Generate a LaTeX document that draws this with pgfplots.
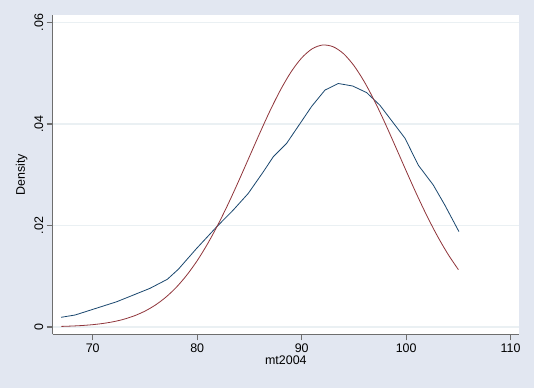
\documentclass[border=0pt]{standalone}
\usepackage{fontspec}
\setmainfont{Liberation Sans}
\usepackage{pgfplots}
\pgfplotsset{compat=1.18}
\definecolor{bgc}{RGB}{226,231,241}
\definecolor{gridc}{RGB}{234,240,243}
\definecolor{navyc}{RGB}{26,71,111}
\definecolor{maroonc}{RGB}{144,53,59}
\definecolor{axc}{RGB}{110,110,110}
\begin{document}
\begin{tikzpicture}
\fill[bgc] (-52.7bp,-53.7bp) rectangle ++(534bp,388bp);
\begin{axis}[at={(0,0)}, anchor=south west, scale only axis,
  width=466.3bp, height=319.3bp,
  xmin=66.17, xmax=110.8, ymin=-0.00144, ymax=0.0615,
  scaled y ticks=false, scaled x ticks=false,
  axis background/.style={fill=white},
  axis lines*=left, axis line style={axc, line width=1.2bp},
  tick align=outside, major tick length=6bp, tick style={axc, line width=1.2bp},
  xtick={70,80,90,100,110}, xticklabels={70,80,90,100,110},
  ytick={0,0.02,0.04,0.06}, yticklabels={0,.02,.04,.06},
  yticklabel style={rotate=90, anchor=south},
  ymajorgrids, grid style={gridc, line width=1.5bp},
  font=\fontsize{12.5}{14}\selectfont,
  xlabel={mt2004}, ylabel={Density},
  xlabel style={yshift=4bp},
]
\addplot[navyc, line width=0.8bp] coordinates {
(66.97,0.00191) (68.31,0.00236) (72.30,0.00498) (75.48,0.00762) (77.14,0.0094)
(78.19,0.01137) (79.95,0.0155) (81.87,0.01976) (83.45,0.02305) (84.89,0.02634)
(86.33,0.0306) (87.28,0.03355) (88.56,0.0362) (90.96,0.0435) (92.23,0.0467)
(93.50,0.0480) (94.88,0.0475) (96.22,0.0462) (97.49,0.0437) (99.89,0.0372)
(101.16,0.0319) (102.59,0.0280) (103.71,0.0240) (105.05,0.0188)
};
\addplot[maroonc, line width=0.8bp, smooth] coordinates {
(67,0.000115) (68,0.000187) (69,0.000296) (70,0.00046) (71,0.000703)
(72,0.00105) (73,0.00154) (74,0.00222) (75,0.00313) (76,0.00433)
(77,0.00588) (78,0.00782) (79,0.01022) (80,0.01307) (81,0.01642)
(82,0.02022) (83,0.02441) (84,0.02892) (85,0.03359) (86,0.03826)
(87,0.04275) (88,0.04683) (89,0.05033) (90,0.05304) (91,0.05483)
(92,0.05558) (93,0.05525) (94,0.05388) (95,0.05152) (96,0.04832)
(97,0.04444) (98,0.04009) (99,0.03546) (100,0.03077) (101,0.02618)
(102,0.02185) (103,0.01789) (104,0.01436) (105,0.0113)
};
\end{axis}
\end{tikzpicture}
\end{document}
